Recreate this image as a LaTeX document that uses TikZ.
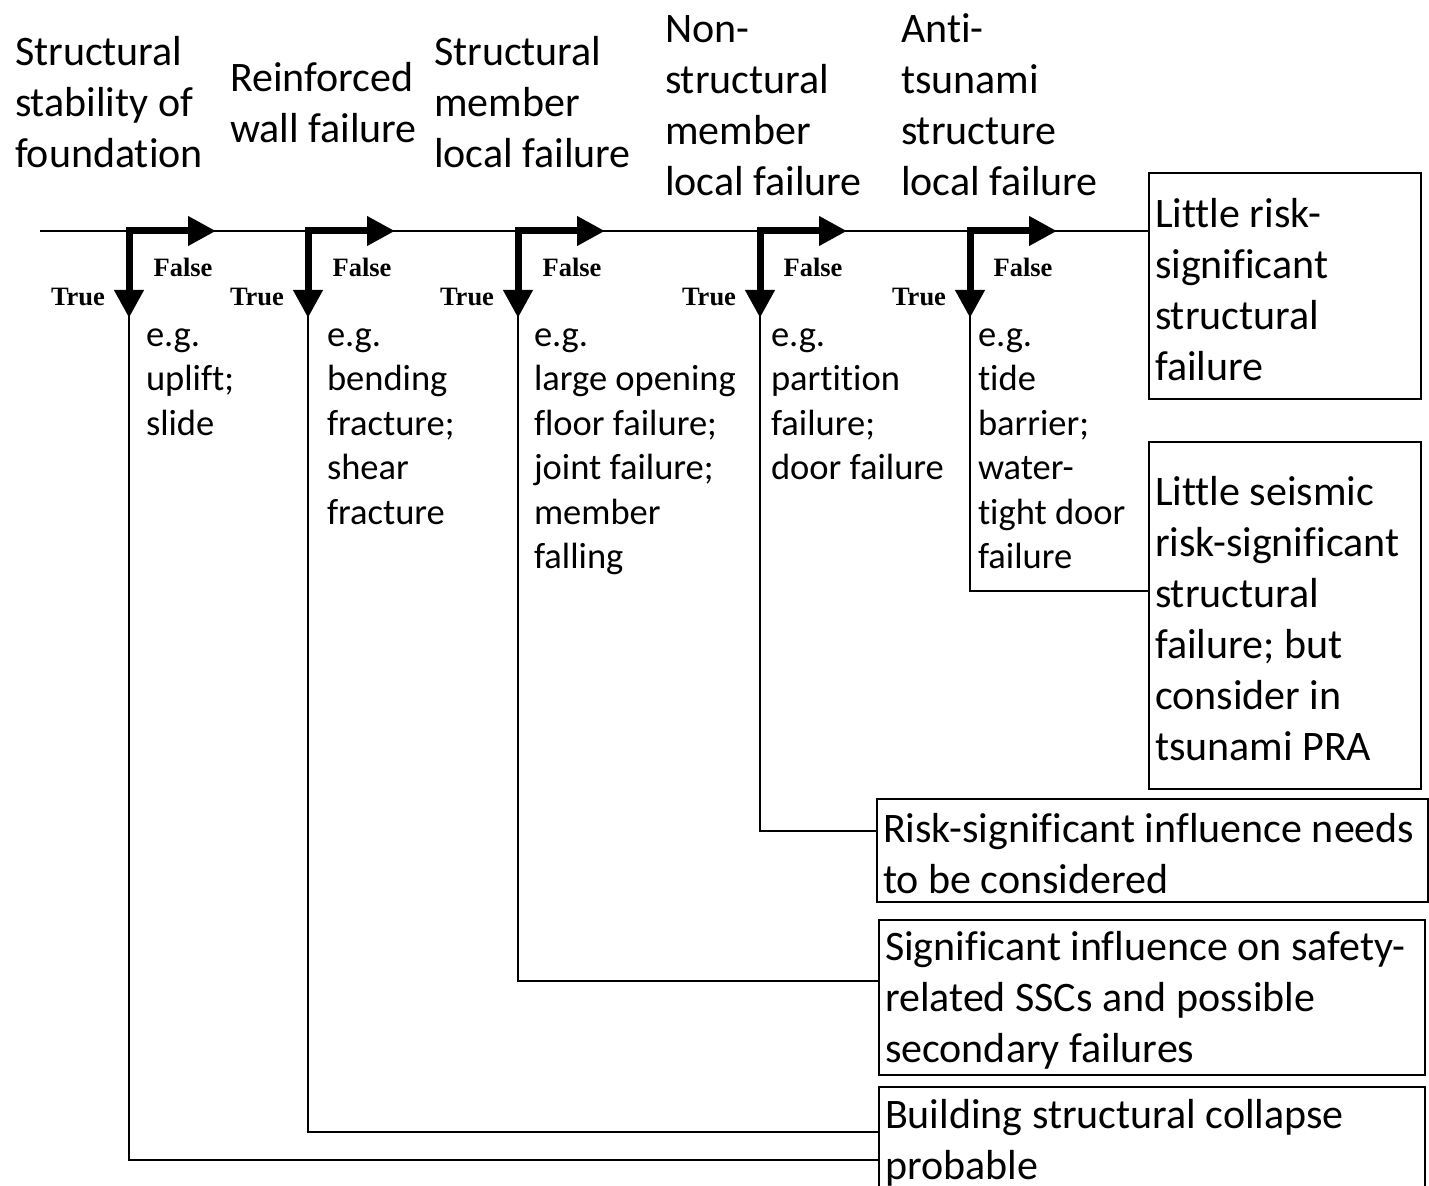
\documentclass[tikz,border=0pt]{standalone}
\usepackage{fontspec}
\setmainfont{Carlito}[Ligatures=NoCommon]
\newfontfamily\tfserif{Liberation Serif}
\usepackage{tikz}
\usetikzlibrary{arrows.meta, positioning, calc}

\newcommand\headfont{\fontsize{21pt}{25.5pt}\selectfont}
\newcommand\notefont{\fontsize{18.25pt}{22.25pt}\selectfont}

\begin{document}
\begin{tikzpicture}[x=0.5pt, y=-0.5pt, line width=1pt,
  header/.style={anchor=north west, inner sep=0pt, align=left, font=\headfont},
  note/.style={anchor=north west, inner sep=0pt, align=left, font=\notefont},
  outcome/.style={draw, line width=1pt, anchor=north west, inner xsep=3pt,
                  inner ysep=0pt, align=flush left, font=\headfont},
  branch/.style={line width=3.5pt, line join=miter,
                 {Triangle[length=14pt,width=14pt]}-{Triangle[length=14pt,width=14pt]}},
  tf/.style={inner sep=0pt, font=\tfserif\bfseries\fontsize{13.25pt}{15pt}\selectfont}]

  \useasboundingbox (0,0) rectangle (1429,1186);

  % event headings
  \node[header] (foundation) at (14,29) {\strut Structural\\stability of\\foundation};
  \node[header] (wall) at (229,55) {\strut Reinforced\\wall failure};
  \node[header] (member) at (433,29) {\strut Structural\\member\\local failure};
  \node[header] (nonstruct) at (664,6) {\strut Non-\\structural\\member\\local failure};
  \node[header] (antitsunami) at (900,6) {\strut Anti-\\tsunami\\structure\\local failure};

  % branch points and path ends
  \coordinate (start) at (40,231);
  \coordinate (b1) at (129,231);
  \coordinate (b2) at (308,231);
  \coordinate (b3) at (518,231);
  \coordinate (b4) at (760,231);
  \coordinate (b5) at (970,231);
  \coordinate (e1) at (129,1160);
  \coordinate (e2) at (308,1132);
  \coordinate (e3) at (518,981);
  \coordinate (e4) at (760,831);
  \coordinate (e5) at (970,591);

  % examples
  \node[note] (eg1) at (145,314) {\strut e.g.\\uplift;\\slide};
  \node[note] (eg2) at (326,314) {\strut e.g.\\bending\\fracture;\\shear\\fracture};
  \node[note] (eg3) at (533,314) {\strut e.g.\\large opening\\floor failure;\\joint failure;\\member\\falling};
  \node[note] (eg4) at (770,314) {\strut e.g.\\partition\\failure;\\door failure};
  \node[note] (eg5) at (977,314) {\strut e.g.\\tide\\barrier;\\water-\\tight door\\failure};

  % end states
  \node[outcome, text width=130pt, minimum height=113pt] (littlerisk) at (1148,172)
    {\strut Little risk-\\significant\\structural\\failure};
  \node[outcome, text width=130pt, minimum height=173.5pt] (littleseismic) at (1148,441)
    {\strut Little seismic\\risk-significant\\structural\\failure; but\\consider in\\tsunami PRA};
  \node[outcome, text width=269.5pt, minimum height=51.5pt] (needs) at (876,798)
    {\strut Risk-significant influence needs\\to be considered};
  \node[outcome, text width=267pt, minimum height=77.5pt] (influence) at (878,919)
    {\strut Significant influence on safety-\\related SSCs and possible\\secondary failures};
  \node[outcome, text width=267pt, minimum height=53pt] (collapse) at (878,1086)
    {\strut Building structural collapse\\probable};

  % thin paths
  \draw (start) -- (start -| littlerisk.west);
  \draw (b1) -- (e1) -- (e1 -| collapse.west);
  \draw (b2) -- (e2) -- (e2 -| collapse.west);
  \draw (b3) -- (e3) -- (e3 -| influence.west);
  \draw (b4) -- (e4) -- (e4 -| needs.west);
  \draw (b5) -- (e5) -- (e5 -| littleseismic.west);

  % true/false arrows
  \draw[branch] ($(b1)+(0,87)$) |- ($(b1)+(87,0)$);
  \draw[branch] ($(b2)+(0,87)$) |- ($(b2)+(87,0)$);
  \draw[branch] ($(b3)+(0,87)$) |- ($(b3)+(87,0)$);
  \draw[branch] ($(b4)+(0,87)$) |- ($(b4)+(87,0)$);
  \draw[branch] ($(b5)+(0,87)$) |- ($(b5)+(87,0)$);

  \node[tf] (t1) at ($(b1)+(-51,66)$) {True};
  \node[tf] (f1) at ($(b1)+(54,36)$) {False};
  \node[tf] (t2) at ($(b2)+(-51,66)$) {True};
  \node[tf] (f2) at ($(b2)+(54,36)$) {False};
  \node[tf] (t3) at ($(b3)+(-51,66)$) {True};
  \node[tf] (f3) at ($(b3)+(54,36)$) {False};
  \node[tf] (t4) at ($(b4)+(-51,66)$) {True};
  \node[tf] (f4) at ($(b4)+(53,36)$) {False};
  \node[tf] (t5) at ($(b5)+(-51,66)$) {True};
  \node[tf] (f5) at ($(b5)+(53,36)$) {False};

\end{tikzpicture}
\end{document}
